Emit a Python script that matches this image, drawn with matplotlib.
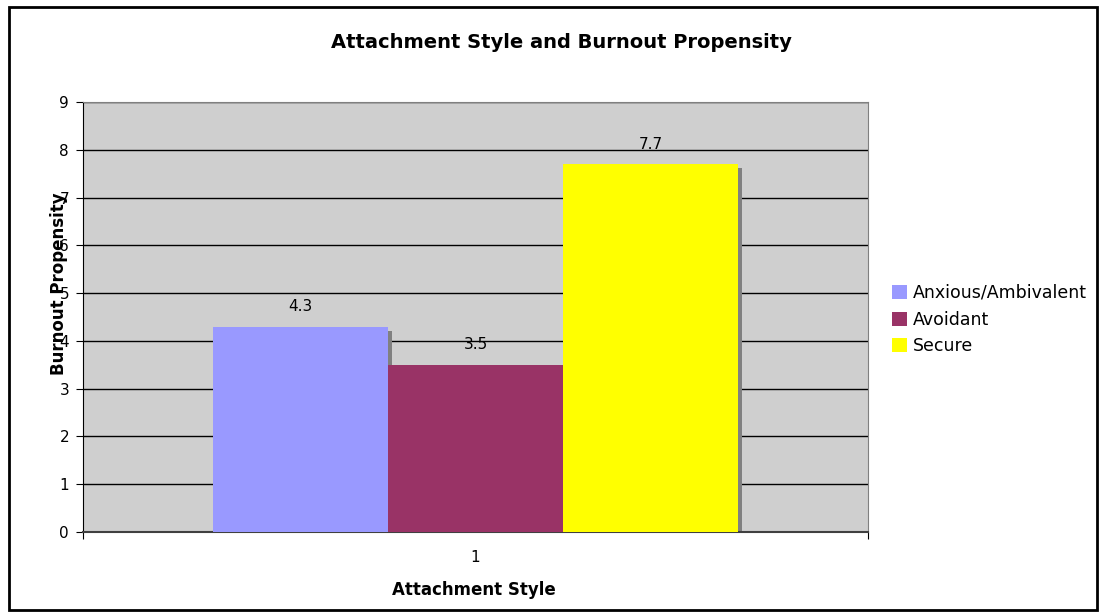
import matplotlib.pyplot as plt
from matplotlib.patches import Rectangle
from matplotlib.transforms import Bbox, TransformedBbox

# data
styles = ["Anxious/Ambivalent", "Avoidant", "Secure"]
burnout = [4.3, 3.5, 7.7]
colors = ["#9999FF", "#993366", "#FFFF00"]
group_label = "1"

plt.rcParams['font.family'] = ['DejaVu Sans']

fig = plt.figure(figsize=(11.04, 6.16), dpi=100)
ax = fig.add_axes([83 / 1104, 1 - 532 / 616, 785 / 1104, 430 / 616])
ax.set_facecolor("#CFCFCF")

width = 175 / 785
offsets = [-width, 0, width]
dx = 4 / 785
dy = 4 / 47.8

# shadows first, then bars
for off, val in zip(offsets, burnout):
    ax.bar(1 + off + dx, val - dy, width=width, color="#808080", zorder=2)
for off, val, c, name in zip(offsets, burnout, colors, styles):
    ax.bar(1 + off, val, width=width, color=c, label=name, zorder=3)
    ax.text(1 + off, val + 0.26, str(val), ha="center", va="bottom", fontsize=11, zorder=4)

ax.set_xlim(0.5, 1.5)
ax.set_ylim(0, 9)
ax.set_yticks(range(10))
ax.yaxis.grid(True, color="black", linewidth=1)
ax.set_axisbelow(True)
ax.set_xticks([0.5, 1.5])
ax.set_xticklabels(["", ""])
ax.set_xticks([1], [group_label], minor=True)
ax.tick_params(axis="x", which="minor", length=0, pad=13, labelsize=11)
ax.tick_params(axis="x", which="major", length=5, direction="out")
ax.tick_params(axis="y", length=5, direction="out", labelsize=11, pad=5)

for s in ["top", "right"]:
    ax.spines[s].set_color("#808080")
ax.spines["left"].set_color("black")
ax.spines["bottom"].set_color("#404040")
ax.spines["bottom"].set_linewidth(1.5)

fig.text(561 / 1104, 1 - 42 / 616, "Attachment Style and Burnout Propensity",
         ha="center", va="center", fontsize=14, fontweight="bold")
fig.text(474 / 1104, 1 - 590 / 616, "Attachment Style",
         ha="center", va="center", fontsize=12, fontweight="bold")
fig.text(59 / 1104, 1 - 284 / 616, "Burnout Propensity", rotation=90,
         ha="center", va="center", fontsize=12, fontweight="bold")

leg = fig.legend(loc="upper left", bbox_to_anchor=(885 / 1104, 1 - 277 / 616),
                 frameon=False, fontsize=12.5, handlelength=0.88, handleheight=0.88,
                 handletextpad=0.3, labelspacing=0.5, borderaxespad=0)
clip = TransformedBbox(Bbox([[0, 0], [1097 / 1104, 1]]), fig.transFigure)
for t in leg.get_texts():
    t.set_clip_box(clip)
    t.set_clip_on(True)

# outer chart border
fig.patches.append(Rectangle((9 / 1104, 1 - 610 / 616), 1088 / 1104, 603 / 616,
                             transform=fig.transFigure, fill=False,
                             edgecolor="black", linewidth=2))

fig.savefig("out.png", dpi=100)
